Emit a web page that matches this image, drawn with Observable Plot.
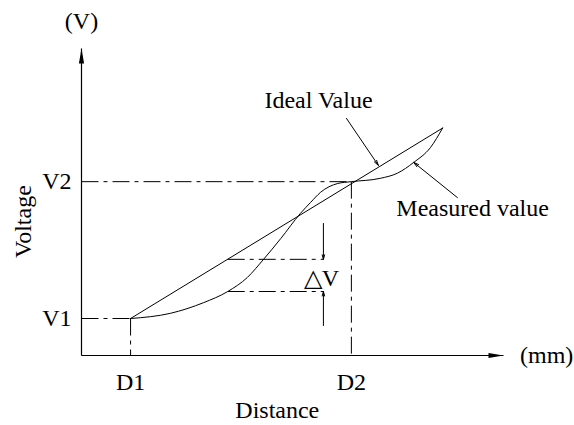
<!DOCTYPE html>
<html>
<head>
<meta charset="utf-8">
<script src="https://cdn.jsdelivr.net/npm/d3@7"></script>
<script src="https://cdn.jsdelivr.net/npm/@observablehq/plot@0.6"></script>
<style>
  html, body { margin: 0; padding: 0; background: #fff; }
</style>
</head>
<body>
<div id="chart"></div>
<script>
// ---- Data ----
const D1 = 1.0, D2 = 5.5;       // distance marks
const V1 = 1.0, V2 = 4.7;       // voltage marks
const xMax = 8.6, yMax = 8.3;   // axis arrow tips

const idealX = [1.0, 7.36];
const idealY = [1.0, 6.15];

const measuredX = [1.0, 1.81, 2.49, 2.98, 3.38, 3.71, 4.06, 4.46, 4.67, 4.87, 5.22, 5.5, 6.09, 6.44, 6.77, 7.11, 7.36];
const measuredY = [1.0, 1.14, 1.43, 1.73, 2.11, 2.60, 3.16, 3.84, 4.14, 4.41, 4.65, 4.7, 4.79, 4.93, 5.22, 5.62, 6.15];

// delta V construction
const dvX = [2.98, 4.93];         // start (on curves) and end of dash-dot lines / arrow x
const dvY = [2.60, 1.73];         // ideal level, measured level
const dvArrowFrom = [3.57, 0.81]; // arrow tails (top, bottom)

const xTickLabels = ["D1", "D2"];
const yTickLabels = ["V1", "V2"];

// leader arrows: [x1, y1, x2, y2]
const leaderIdeal = [5.40, 6.41, 6.05, 5.14];
const leaderMeasured = [7.66, 4.27, 6.77, 5.22];

// text labels
const labels = [
  {text: "(V)", x: 0, y: 9.03},
  {text: "(mm)", x: 9.48, y: 0},
  {text: "Ideal Value", x: 4.83, y: 6.89},
  {text: "Measured value", x: 7.97, y: 3.97},
  {text: "Distance", x: 3.99, y: -1.49},
  {text: "\u25B3V", x: 4.89, y: 2.08}
];

// ---- Build ----
const ideal = idealX.map((x, i) => ({x, y: idealY[i]}));
const measured = measuredX.map((x, i) => ({x, y: measuredY[i]}));
const dash = "17,5,4,5";
const font = "Liberation Serif";
const fs = 24;

const arrowHead = {
  draw(ctx) {
    ctx.moveTo(0, 0);
    ctx.lineTo(-15, -2.6);
    ctx.lineTo(-15, 2.6);
    ctx.closePath();
  }
};

const chart = Plot.plot({
  width: 574,
  height: 425,
  marginLeft: 81,
  marginRight: 71,
  marginTop: 48,
  marginBottom: 70,
  x: {domain: [0, xMax], axis: null},
  y: {domain: [0, yMax], axis: null},
  style: {fontFamily: font, background: "#fff"},
  marks: [
    // axes
    Plot.link([{x1: 0, y1: 0, x2: xMax, y2: 0}], {x1: "x1", y1: "y1", x2: "x2", y2: "y2", stroke: "black", strokeWidth: 1.2}),
    Plot.link([{x1: 0, y1: 0, x2: 0, y2: yMax}], {x1: "x1", y1: "y1", x2: "x2", y2: "y2", stroke: "black", strokeWidth: 1.2}),
    Plot.dot([{x: xMax, y: 0}], {x: "x", y: "y", symbol: arrowHead, fill: "black", stroke: null}),
    Plot.dot([{x: 0, y: yMax}], {x: "x", y: "y", symbol: arrowHead, fill: "black", stroke: null, rotate: -90}),
    // dash-dot guides
    Plot.link([
      {x1: 0, y1: V2, x2: D2, y2: V2},
      {x1: D2, y1: V2, x2: D2, y2: 0},
      {x1: 0, y1: V1, x2: D1, y2: V1},
      {x1: D1, y1: V1, x2: D1, y2: 0},
      {x1: dvX[0], y1: dvY[0], x2: dvX[1], y2: dvY[0]},
      {x1: dvX[0], y1: dvY[1], x2: dvX[1], y2: dvY[1]}
    ], {x1: "x1", y1: "y1", x2: "x2", y2: "y2", stroke: "black", strokeWidth: 1, strokeDasharray: dash}),
    // curves
    Plot.line(ideal, {x: "x", y: "y", stroke: "black", strokeWidth: 1}),
    Plot.line(measured, {x: "x", y: "y", stroke: "black", strokeWidth: 1, curve: "monotone-x"}),
    // delta V arrows
    Plot.arrow([
      {x1: dvX[1], y1: dvArrowFrom[0], x2: dvX[1], y2: dvY[0]},
      {x1: dvX[1], y1: dvArrowFrom[1], x2: dvX[1], y2: dvY[1]}
    ], {x1: "x1", y1: "y1", x2: "x2", y2: "y2", stroke: "black", strokeWidth: 1, headLength: 7, headAngle: 30}),
    // leader arrows
    Plot.arrow([leaderIdeal, leaderMeasured].map(([x1, y1, x2, y2]) => ({x1, y1, x2, y2})),
      {x1: "x1", y1: "y1", x2: "x2", y2: "y2", stroke: "black", strokeWidth: 1, headLength: 8, headAngle: 30}),
    // tick labels
    Plot.text(xTickLabels, {x: (d, i) => [D1, D2][i], y: 0, text: d => d, dy: 27, fontSize: fs, fill: "black"}),
    Plot.text(yTickLabels, {x: 0, y: (d, i) => [V1, V2][i], text: d => d, dx: -10, textAnchor: "end", fontSize: fs, fill: "black"}),
    // labels
    Plot.text(labels, {x: "x", y: "y", text: "text", fontSize: fs, fill: "black"}),
    Plot.text(["Voltage"], {x: -1.18, y: 3.62, text: d => d, rotate: -90, fontSize: fs, fill: "black"})
  ]
});

document.getElementById("chart").appendChild(chart);
</script>
</body>
</html>
